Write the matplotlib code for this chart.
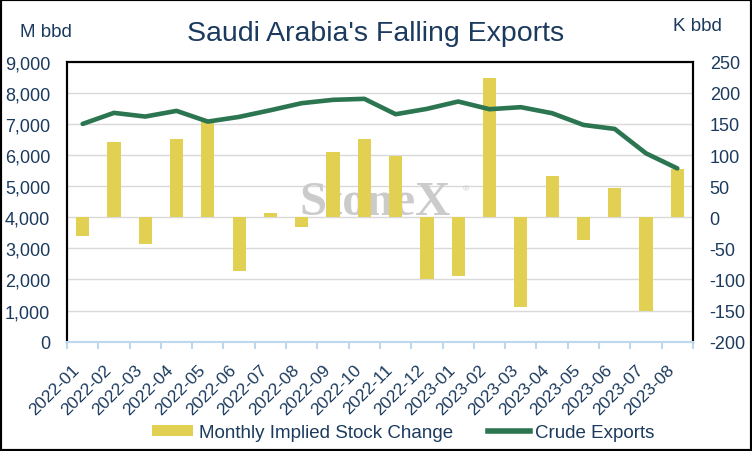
import matplotlib
matplotlib.use("Agg")
import matplotlib.pyplot as plt
from matplotlib.patches import Patch, Rectangle
from matplotlib.lines import Line2D
from matplotlib.transforms import ScaledTranslation

plt.rcParams['font.family'] = ['Liberation Sans', 'DejaVu Sans']

months = ["2022-01", "2022-02", "2022-03", "2022-04", "2022-05", "2022-06", "2022-07",
          "2022-08", "2022-09", "2022-10", "2022-11", "2022-12", "2023-01", "2023-02",
          "2023-03", "2023-04", "2023-05", "2023-06", "2023-07", "2023-08"]
stock_change = [-30, 121, -43, 125, 153, -87, 7, -16, 105, 125,
                99, -100, -95, 223, -145, 67, -37, 47, -151, 77]
crude_exports = [7000, 7355, 7237, 7419, 7075, 7226, 7440, 7667, 7774, 7806,
                 7312, 7484, 7720, 7473, 7538, 7344, 6968, 6839, 6054, 5570]

left_ticks = [0, 1000, 2000, 3000, 4000, 5000, 6000, 7000, 8000, 9000]
right_ticks = [-200, -150, -100, -50, 0, 50, 100, 150, 200, 250]

navy = '#1B3A5E'
bar_color = '#E2D052'
line_color = '#2B7550'
axis_blue = '#BDD7EE'

fig = plt.figure(figsize=(7.52, 4.52), dpi=100)
ax = fig.add_axes([0.0891, 0.2418, 0.8324, 0.6195])
ax2 = ax.twinx()

x = list(range(len(months)))

# bars on right axis
ax2.set_zorder(1)
ax.set_zorder(2)
ax.patch.set_visible(False)
ax2.bar(x, stock_change, width=0.42, color=bar_color, zorder=3)
ax2.set_ylim(-200, 250)
ax2.set_yticks(right_ticks)
ax2.set_yticklabels([f"{v}" for v in right_ticks])
ax2.grid(axis='y', color='#D9D9D9', linewidth=1.0, zorder=0)
ax2.set_axisbelow(True)
ax2.text(0.492, 0.50, "StoneX", transform=ax2.transAxes, ha='center', va='center',
         fontsize=35, fontweight='bold', color='#CBCBCB',
         family=['Liberation Serif', 'DejaVu Serif'], zorder=1)
ax2.text(0.637, 0.545, "®", transform=ax2.transAxes, ha='center', va='center',
         fontsize=6, color='#C8C8C8', zorder=1)

# line on left axis
ax.plot(x, crude_exports, color=line_color, linewidth=3.3, solid_capstyle='round', zorder=4)
ax.set_ylim(0, 9000)
ax.set_yticks(left_ticks)
ax.set_yticklabels([f"{v:,}" for v in left_ticks])
ax.set_xlim(-0.5, len(months) - 0.5)
ax.set_xticks(x)
ax.set_xticklabels(months, rotation=45, ha='right', va='top', rotation_mode='default')
ax.set_xticks([i - 0.5 for i in range(len(months) + 1)], minor=True)
shift = ScaledTranslation(3 / 100, 0, fig.dpi_scale_trans)
for lbl in ax.get_xticklabels():
    lbl.set_transform(lbl.get_transform() + shift)

for a in (ax, ax2):
    for s in ('left', 'top', 'right'):
        a.spines[s].set_color('black')
        a.spines[s].set_linewidth(1.5)
    a.spines['bottom'].set_color(axis_blue)
    a.spines['bottom'].set_linewidth(1.5)

ax.tick_params(axis='y', length=0, pad=12, labelsize=13, labelcolor=navy)
ax2.tick_params(axis='y', length=0, pad=12, labelsize=13, labelcolor=navy)
ax.tick_params(axis='x', which='major', length=0, pad=14, labelsize=12.5, labelcolor=navy)
ax.tick_params(axis='x', which='minor', length=5, width=1.5, color=axis_blue, direction='out')
ax2.tick_params(axis='x', which='both', length=0)

fig.text(0.4993, 0.925, "Saudi Arabia's Falling Exports", ha='center', va='center',
         fontsize=20.5, color=navy)
fig.text(0.026, 0.928, "M bbd", ha='left', va='center', fontsize=13.5, color=navy)
fig.text(0.895, 0.941, "K bbd", ha='left', va='center', fontsize=13.5, color=navy)

handles = [Patch(facecolor=bar_color, edgecolor='none'),
           Line2D([0], [0], color=line_color, linewidth=4)]
fig.legend(handles, ["Monthly Implied Stock Change", "Crude Exports"],
           loc='center', bbox_to_anchor=(0.536, 0.040), ncol=2, frameon=False,
           fontsize=13.5, labelcolor=navy, handlelength=2.2, handleheight=0.55,
           handletextpad=0.3, columnspacing=1.9, borderpad=0)

fig.patches.append(Rectangle((0, 0), 1, 1, transform=fig.transFigure, fill=False,
                             edgecolor='black', linewidth=3, zorder=10))

fig.savefig("out.png", dpi=100)
